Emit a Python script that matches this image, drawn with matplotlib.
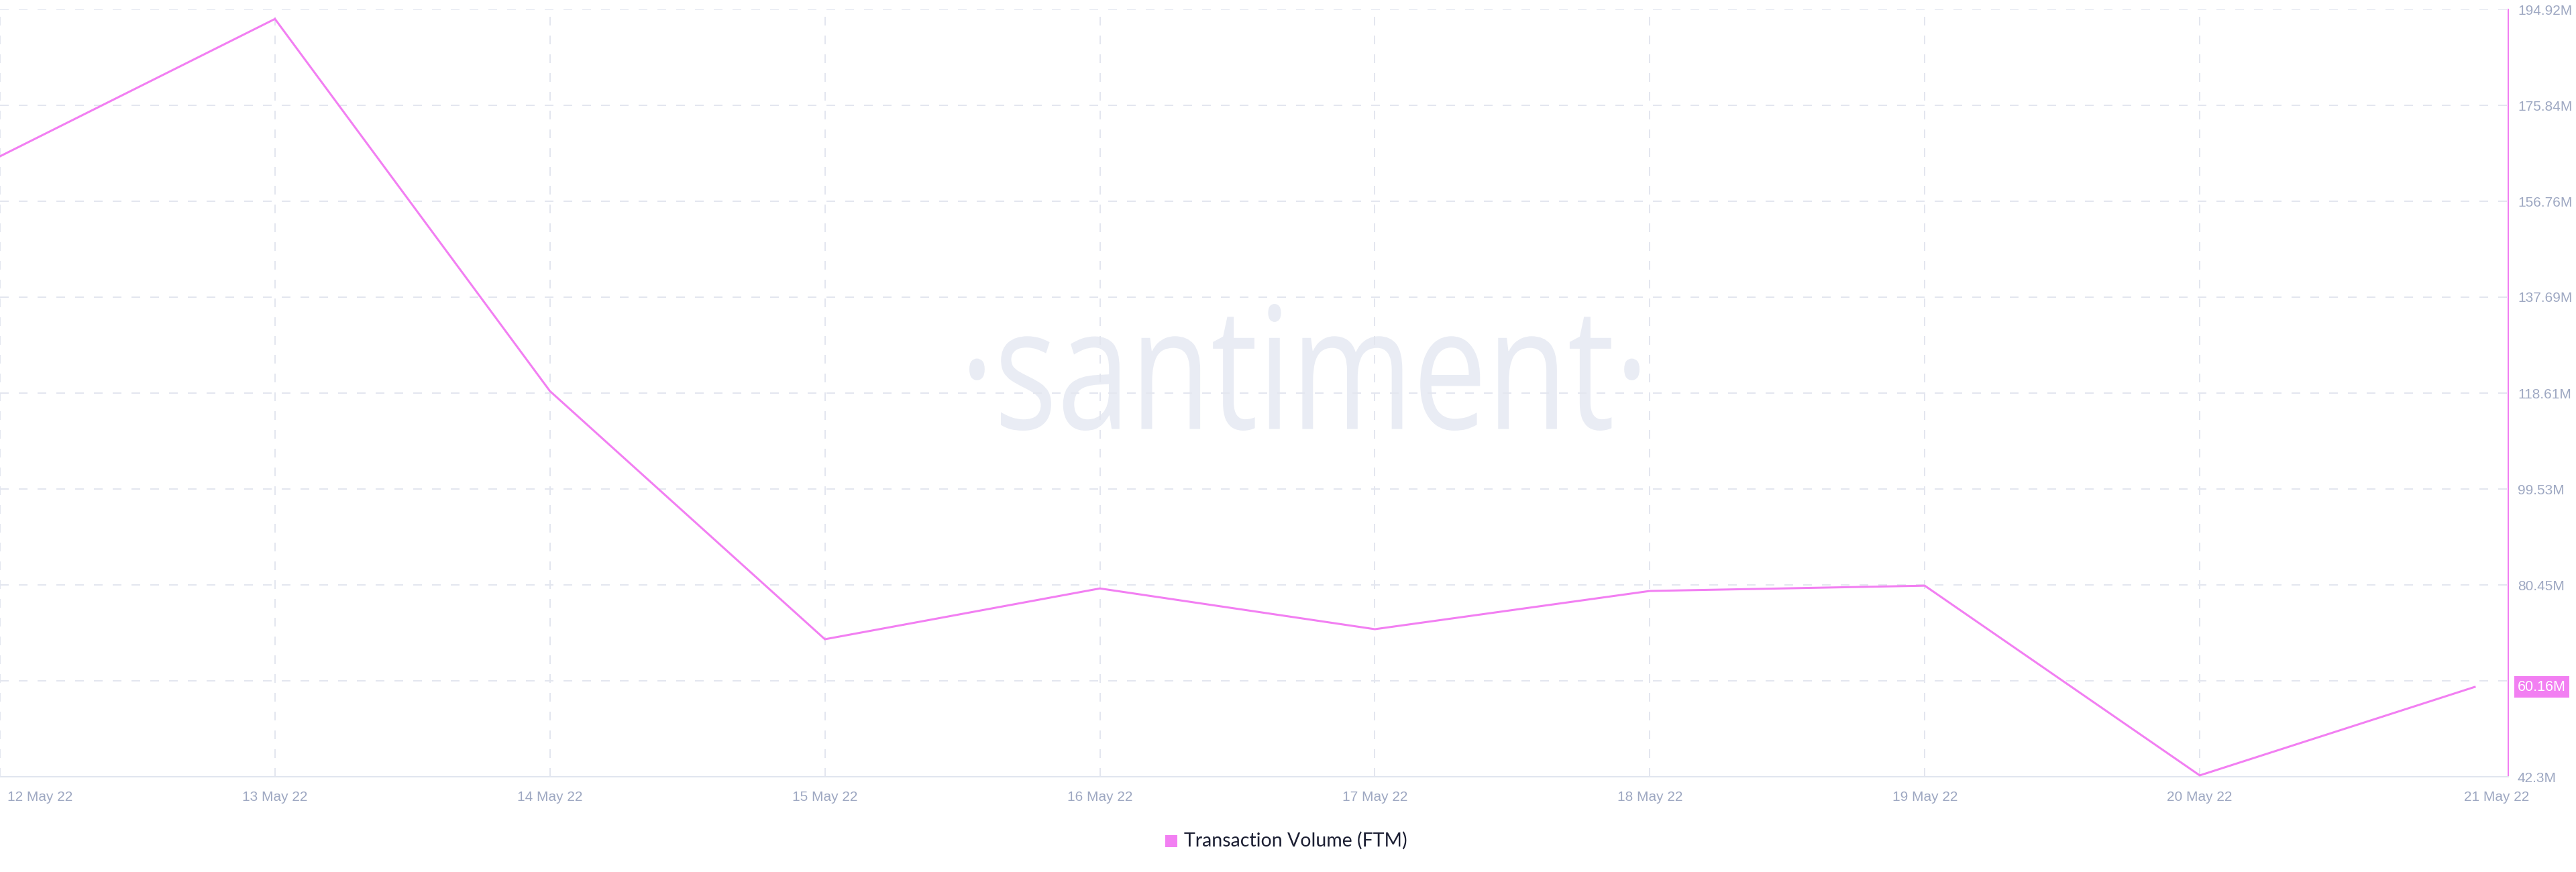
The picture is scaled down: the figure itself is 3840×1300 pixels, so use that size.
import matplotlib
matplotlib.use("Agg")
import matplotlib.pyplot as plt
import matplotlib.dates as mdates
import matplotlib.transforms as mtransforms
from matplotlib.font_manager import FontProperties
from matplotlib.patches import PathPatch, Rectangle
from matplotlib.textpath import TextPath
import pandas as pd

# --- data ---
dates = ["2022-05-12", "2022-05-13", "2022-05-14", "2022-05-15", "2022-05-16",
         "2022-05-17", "2022-05-18", "2022-05-19", "2022-05-20", "2022-05-21"]
volume_m = [165.70, 193.02, 119.00, 69.65, 79.75, 71.65, 79.25, 80.30, 42.57, 60.16]
x_labels = ["12 May 22", "13 May 22", "14 May 22", "15 May 22", "16 May 22",
            "17 May 22", "18 May 22", "19 May 22", "20 May 22", "21 May 22"]
y_ticks = [42.3, 61.37, 80.45, 99.53, 118.61, 137.69, 156.76, 175.84, 194.92]
y_labels = ["42.3M", "61.37M", "80.45M", "99.53M", "118.61M",
            "137.69M", "156.76M", "175.84M", "194.92M"]
last_label = "60.16M"
series_name = "Transaction Volume (FTM)"

LINE = "#f27ff2"
GRID = "#e3e6ef"
TICK = "#9ea8c2"
DPI = 100
W, H = 3840, 1300
DASH = (0, (6.5, 7.5))

x = pd.to_datetime(dates)
xn = mdates.date2num(x)

fig = plt.figure(figsize=(W / DPI, H / DPI), dpi=DPI, facecolor="white")
ax = fig.add_axes([0, 142 / H, 3739 / W, 1144 / H])

# watermark, squeezed horizontally to look like the condensed logo
tp = TextPath((0, 0), "\u00b7santiment\u00b7", size=100, prop=FontProperties(family="Open Sans"))
ext = tp.get_extents()
left, right, top, bottom = 1445, 2444, 453, 642
tr = (mtransforms.Affine2D()
      .translate(-ext.x0, -ext.y0)
      .scale((right - left) / ext.width, (bottom - top) / ext.height)
      .translate(left, H - bottom)
      .scale(1 / DPI)) + fig.dpi_scale_trans
wm = PathPatch(tp, transform=tr, facecolor="#e9ecf4", edgecolor="none", zorder=0.1)
ax.add_artist(wm)

ax.plot(x, volume_m, color=LINE, linewidth=2.2, zorder=3, solid_joinstyle="miter")

ax.set_xlim(xn[0], xn[0] + 9.122)
ax.set_ylim(y_ticks[0], y_ticks[-1])

ax.set_axisbelow(True)
ax.set_xticks(x)
ax.set_xticklabels([])
ax.yaxis.tick_right()
ax.set_yticks(y_ticks, y_labels)
ax.tick_params(axis="x", length=0)
ax.tick_params(axis="y", length=0, pad=10, labelsize=15, labelcolor=TICK)
for lab in ax.get_yticklabels():
    lab.set_fontfamily("Liberation Sans")
ax.grid(True, axis="y", color=GRID, linewidth=1.44, linestyle=DASH)
# no vertical grid line on the last day
for xi in x[:-1]:
    ax.axvline(xi, color=GRID, linewidth=1.44, linestyle=DASH, zorder=0.5)

for side in ["left", "top"]:
    ax.spines[side].set_visible(False)
ax.spines["bottom"].set_color("#e1e5ef")
ax.spines["bottom"].set_linewidth(1.44)
ax.spines["right"].set_color(LINE)
ax.spines["right"].set_linewidth(1.44)

# x labels: first pinned to the left edge, last nudged inside
xt = ax.get_xaxis_transform()
for i, (xi, lab) in enumerate(zip(x, x_labels)):
    ha, dx = "center", 0
    if i == 0:
        ha, dx = "left", 11
    elif i == len(x) - 1:
        dx = 33
    t = mtransforms.offset_copy(xt, fig=fig, x=dx, y=-31, units="dots")
    ax.text(xi, 0, lab, transform=t, ha=ha, va="center", fontsize=15,
            color=TICK, family="Liberation Sans", clip_on=False)

# last value badge
bt = mtransforms.offset_copy(ax.get_yaxis_transform(), fig=fig, x=14, y=0, units="dots")
ax.text(1, volume_m[-1], last_label, transform=bt, ha="left", va="center",
        fontsize=15.5, color="white", family="Liberation Sans", zorder=10, clip_on=False,
        bbox=dict(boxstyle="square,pad=0.25", facecolor=LINE, edgecolor="none"))

# legend
fig.add_artist(Rectangle((1737 / W, (H - 1263) / H), 18 / W, 18 / H,
                         transform=fig.transFigure, facecolor=LINE, edgecolor="none"))
fig.text(1765 / W, (H - 1253) / H, series_name, ha="left", va="center",
         fontsize=20.5, color="#1c1f33", family="Lato")

fig.savefig("out.png", dpi=DPI)
